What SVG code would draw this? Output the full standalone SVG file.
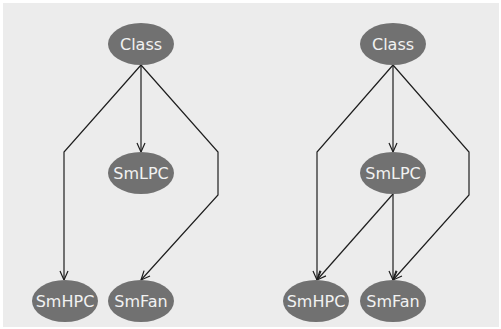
<svg xmlns="http://www.w3.org/2000/svg" width="501" height="329" viewBox="0 0 501 329">
<defs>
<style>
.n ellipse{fill:#717171}
.n text{fill:#f2f2f2;font-family:"DejaVu Sans",sans-serif;font-size:16px;text-anchor:middle}
.e path{fill:none;stroke:#1e1e1e;stroke-width:1.2;marker-end:url(#a)}
</style>
<marker id="a" viewBox="0 0 10 10" refX="10" refY="5" markerWidth="10" markerHeight="10" markerUnits="userSpaceOnUse" orient="auto">
<path d="M1,1 L10,5 L1,9" fill="none" stroke="#1e1e1e" stroke-width="1.2"/>
</marker>
</defs>
<rect x="0" y="0" width="501" height="329" fill="#ffffff"/>
<rect x="3" y="3" width="496" height="324" fill="#ececec"/>
<g class="e" id="connectors">
<path d="M141,65 L64,152 L64,280"/>
<path d="M141,65 L141,152"/>
<path d="M141,65 L218,152 L218,195 L141,280"/>
<path d="M393,65 L317,152 L317,280"/>
<path d="M393,65 L393,152"/>
<path d="M393,65 L469,152 L469,195 L393,280"/>
<path d="M393,194 L317,280"/>
<path d="M393,194 L393,280"/>
</g>
<g class="n" id="class1"><ellipse cx="141" cy="44" rx="33" ry="21"/><text x="141" y="50">Class</text></g>
<g class="n" id="smlpc1"><ellipse cx="141" cy="173" rx="33" ry="21"/><text x="141" y="179">SmLPC</text></g>
<g class="n" id="smhpc1"><ellipse cx="65" cy="301" rx="33" ry="21"/><text x="65" y="307">SmHPC</text></g>
<g class="n" id="smfan1"><ellipse cx="141" cy="301" rx="33" ry="21"/><text x="141" y="307">SmFan</text></g>
<g class="n" id="class2"><ellipse cx="393" cy="44" rx="33" ry="21"/><text x="393" y="50">Class</text></g>
<g class="n" id="smlpc2"><ellipse cx="393" cy="173" rx="33" ry="21"/><text x="393" y="179">SmLPC</text></g>
<g class="n" id="smhpc2"><ellipse cx="316" cy="301" rx="33" ry="21"/><text x="316" y="307">SmHPC</text></g>
<g class="n" id="smfan2"><ellipse cx="393" cy="301" rx="33" ry="21"/><text x="393" y="307">SmFan</text></g>
</svg>
